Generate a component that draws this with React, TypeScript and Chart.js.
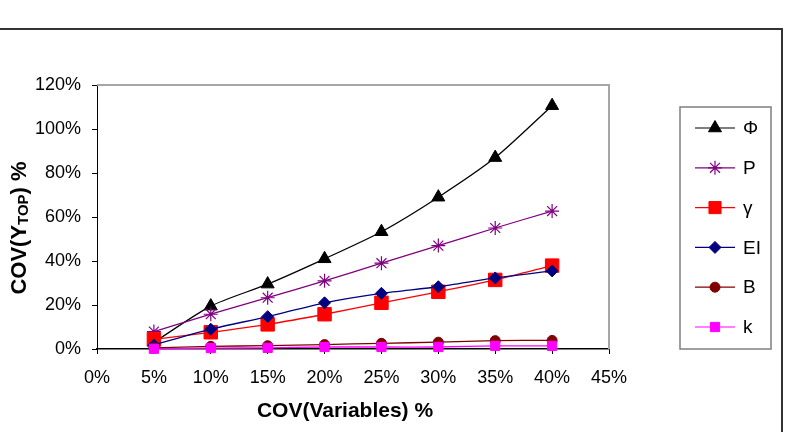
import React, { useEffect, useRef } from 'react';
import { Chart, registerables } from 'chart.js';
import { drawPoint } from 'chart.js/helpers';

Chart.register(...registerables);

// ---- data ----
const covVariables = [5, 10, 15, 20, 25, 30, 35, 40];
const phiValues = [3, 19.5, 29.5, 41, 53.3, 69, 87, 110.6];
const pValues = [7.9, 15.8, 23.3, 31, 39, 47, 55, 62.7];
const gammaValues = [4.4, 7.6, 11.2, 15.8, 21, 26, 31.4, 37.9];
const eiValues = [1.8, 9, 14.7, 21, 25.3, 28.3, 32.3, 35.5];
const bValues = [0.5, 1.2, 1.5, 2.0, 2.6, 3.1, 3.8, 3.9];
const kValues = [0.1, 0.4, 0.5, 0.9, 0.9, 0.9, 1.4, 1.4];
const seriesNames = ['Φ', 'P', 'γ', 'EI', 'B', 'k'];
const xTickValues = [0, 5, 10, 15, 20, 25, 30, 35, 40, 45];
const yTickValues = [0, 20, 40, 60, 80, 100, 120];
const xTitle = 'COV(Variables) %';
const yTitleMain = 'COV(Y';
const yTitleSub = 'TOP';
const yTitleEnd = ') %';

// ---- styles ----
const seriesValues = [phiValues, pValues, gammaValues, eiValues, bValues, kValues];
const seriesStyles = [
  { color: '#000000', point: 'triangle', radius: 7.5 },
  { color: '#800080', point: 'star', radius: 7 },
  { color: '#FF0000', point: 'rect', radius: 9.5 },
  { color: '#000080', point: 'rectRot', radius: 6 },
  { color: '#800000', point: 'circle', radius: 5 },
  { color: '#FF00FF', point: 'rect', radius: 6.5 },
];
const FONT = 'Arial, "Liberation Sans", sans-serif';

const decorPlugin = {
  id: 'decor',
  beforeDatasetsDraw(chart: any) {
    const { ctx, chartArea } = chart;
    ctx.save();
    ctx.strokeStyle = '#a6a6a6';
    ctx.lineWidth = 2;
    ctx.beginPath();
    ctx.moveTo(chartArea.left, chartArea.top);
    ctx.lineTo(chartArea.right, chartArea.top);
    ctx.lineTo(chartArea.right, chartArea.bottom);
    ctx.stroke();
    ctx.restore();
  },
  afterDraw(chart: any) {
    const { ctx, chartArea } = chart;
    ctx.save();
    // outer frame
    ctx.strokeStyle = '#333333';
    ctx.lineWidth = 2;
    ctx.beginPath();
    ctx.moveTo(0, 29);
    ctx.lineTo(782, 29);
    ctx.lineTo(782, 432);
    ctx.stroke();

    // x title
    ctx.fillStyle = '#000';
    ctx.font = `bold 21px ${FONT}`;
    ctx.textAlign = 'center';
    ctx.textBaseline = 'middle';
    ctx.fillText(xTitle, (chartArea.left + chartArea.right) / 2 - 8, 411);

    // y title (rotated, with subscript)
    ctx.save();
    ctx.translate(20, 228);
    ctx.rotate(-Math.PI / 2);
    ctx.textAlign = 'left';
    ctx.textBaseline = 'middle';
    const bigFont = `bold 22px ${FONT}`;
    const smallFont = `bold 15px ${FONT}`;
    ctx.font = bigFont;
    const w1 = ctx.measureText(yTitleMain).width;
    const w3 = ctx.measureText(yTitleEnd).width;
    ctx.font = smallFont;
    const w2 = ctx.measureText(yTitleSub).width;
    let x = -(w1 + w2 + w3) / 2;
    ctx.font = bigFont;
    ctx.fillText(yTitleMain, x, 0);
    x += w1;
    ctx.font = smallFont;
    ctx.fillText(yTitleSub, x, 4);
    x += w2;
    ctx.font = bigFont;
    ctx.fillText(yTitleEnd, x, 0);
    ctx.restore();

    // legend
    ctx.strokeStyle = '#7f7f7f';
    ctx.lineWidth = 1.5;
    ctx.strokeRect(680, 107, 91, 242);
    seriesNames.forEach((name, i) => {
      const st = seriesStyles[i];
      const y = 128 + i * 39.8;
      ctx.strokeStyle = st.color;
      ctx.lineWidth = 1.2;
      ctx.beginPath();
      ctx.moveTo(695, y);
      ctx.lineTo(735, y);
      ctx.stroke();
      ctx.fillStyle = st.color;
      ctx.strokeStyle = st.color;
      ctx.lineWidth = st.point === 'star' ? 1.2 : 1;
      drawPoint(ctx, { pointStyle: st.point, radius: st.radius * (i === 2 ? 0.9 : 1), rotation: 0, borderWidth: 1 } as any, 715, y);
      ctx.fillStyle = '#000';
      ctx.font = `19px ${FONT}`;
      ctx.textAlign = 'left';
      ctx.textBaseline = 'middle';
      ctx.fillText(name, 743, y + 1);
    });
    ctx.restore();
  },
};

export default function App() {
  const ref = useRef<HTMLCanvasElement>(null);
  useEffect(() => {
    const canvas = ref.current!;
    const chart = new Chart(canvas, {
      type: 'line',
      data: {
        datasets: seriesNames.map((name, i) => ({
          label: name,
          data: covVariables.map((x, j) => ({ x, y: seriesValues[i][j] })),
          borderColor: seriesStyles[i].color,
          backgroundColor: seriesStyles[i].color,
          pointBackgroundColor: seriesStyles[i].color,
          pointBorderColor: seriesStyles[i].color,
          pointStyle: seriesStyles[i].point as any,
          pointRadius: seriesStyles[i].radius,
          pointBorderWidth: seriesStyles[i].point === 'star' ? 1.2 : 1,
          borderWidth: 1.3,
          tension: 0.25,
          fill: false,
          clip: 12,
          order: seriesNames.length - i,
        })),
      },
      options: {
        animation: false,
        responsive: false,
        layout: { padding: { left: 0, top: 85, right: 185, bottom: 0 } },
        plugins: { legend: { display: false }, tooltip: { enabled: false } },
        scales: {
          x: {
            type: 'linear',
            min: 0,
            max: 45,
            afterBuildTicks: (s: any) => {
              s.ticks = xTickValues.map((v) => ({ value: v }));
            },
            afterFit: (s: any) => {
              s.height = 83;
            },
            ticks: {
              callback: (v: any) => v + '%',
              color: '#000',
              font: { family: FONT, size: 18 },
              padding: 13,
              maxRotation: 0,
            },
            grid: { drawOnChartArea: false, tickLength: 5, color: '#000' },
            border: { color: '#000', width: 1.5 },
          },
          y: {
            min: 0,
            max: 120,
            afterBuildTicks: (s: any) => {
              s.ticks = yTickValues.map((v) => ({ value: v }));
            },
            afterFit: (s: any) => {
              s.width = 97;
            },
            ticks: {
              callback: (v: any) => v + '%',
              color: '#000',
              font: { family: FONT, size: 18 },
              padding: 11,
            },
            grid: { drawOnChartArea: false, tickLength: 5, color: '#000' },
            border: { color: '#000', width: 1 },
          },
        },
      },
      plugins: [decorPlugin],
    } as any);
    return () => chart.destroy();
  }, []);
  return (
    <div style={{ position: 'absolute', left: 0, top: 0, width: 794, height: 432, background: '#fff' }}>
      <canvas ref={ref} width={794} height={432} style={{ display: 'block' }} />
    </div>
  );
}
